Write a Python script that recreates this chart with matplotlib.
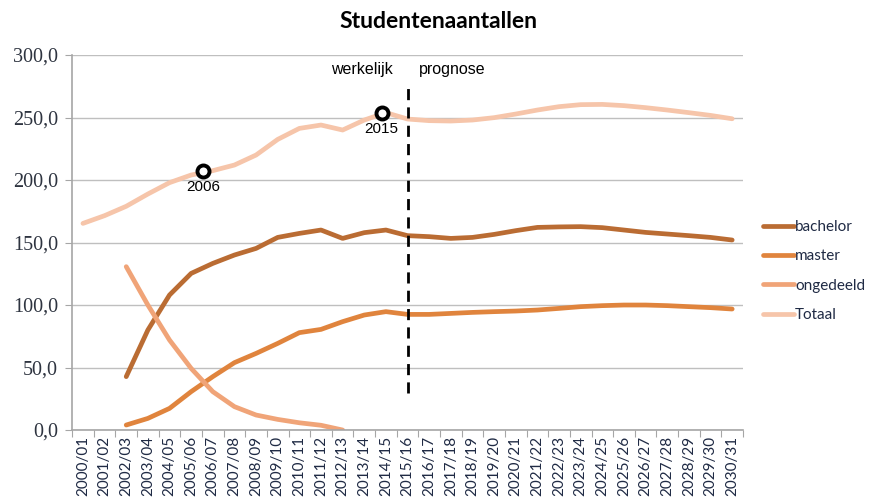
import matplotlib
matplotlib.use("Agg")
import matplotlib.pyplot as plt
from matplotlib.ticker import FixedLocator, FuncFormatter

years = [f"{y}/{(y + 1) % 100:02d}" for y in range(2000, 2031)]

# student numbers (x 1000)
totaal = [165.3, 171.5, 179.0, 188.8, 197.9, 204.0, 207.5, 212.0, 220.0, 232.5,
          241.3, 244.0, 240.0, 248.0, 253.9, 248.8, 247.5, 247.2, 248.0, 249.9,
          252.8, 256.0, 258.7, 260.3, 260.5, 259.5, 257.9, 256.0, 253.9, 251.7,
          249.0]
bachelor = [None, None, 42.7, 80.0, 108.0, 125.3, 133.3, 140.0, 145.3, 154.1,
            157.3, 160.0, 153.3, 157.9, 160.0, 155.5, 154.7, 153.3, 154.1, 156.5,
            159.5, 162.1, 162.5, 162.7, 161.9, 160.0, 158.1, 156.8, 155.5, 154.1,
            152.0]
master = [None, None, 4.0, 9.3, 17.3, 30.7, 42.7, 53.9, 61.3, 69.3,
          77.9, 80.5, 86.7, 92.0, 94.7, 92.5, 92.5, 93.3, 94.1, 94.7,
          95.2, 96.0, 97.3, 98.7, 99.5, 100.0, 100.0, 99.5, 98.7, 97.9,
          96.8]
ongedeeld = [None, None, 130.7, 100.0, 72.0, 49.3, 30.7, 18.7, 12.0, 8.5,
             5.8, 3.8, 0.0]

series_names = ["bachelor", "master", "ongedeeld", "Totaal"]
series_colors = ["#BA6C33", "#E0843D", "#F0A478", "#F6C5AA"]

# highlighted points on the total line
marker_x = [5.55, 13.8]
marker_y = [207.5, 253.9]
marker_labels = ["2006", "2015"]

split_index = 15  # 2015/16: start of prognosis


def pad(values, n):
    vals = [float("nan") if v is None else v for v in values]
    return vals + [float("nan")] * (n - len(vals))


def main():
    n = len(years)
    x = list(range(n))
    fig = plt.figure(figsize=(8.69, 4.98), dpi=100)
    ax = fig.add_axes([0.083, 0.1365, 0.772, 0.753])

    for name, values, color in zip(series_names, [bachelor, master, ongedeeld, totaal], series_colors):
        ax.plot(x, pad(values, n), color=color, linewidth=3.4, label=name,
                solid_capstyle="round", solid_joinstyle="round")

    ax.scatter(marker_x, marker_y, s=75, facecolor="white", edgecolor="black",
               linewidth=2.8, zorder=5)
    for mx, my, lab in zip(marker_x, marker_y, marker_labels):
        ax.annotate(lab, (mx, my), xytext=(0, -7), textcoords="offset points",
                    ha="center", va="top", fontsize=11, family="Liberation Sans")

    ax.plot([split_index, split_index], [30, 274], color="black", linewidth=2.0,
            linestyle=(0, (4, 2.6)), zorder=4)
    ax.annotate("werkelijk", (split_index, 288.5), xytext=(-11, 0),
                textcoords="offset points", ha="right", va="center",
                fontsize=11.5, family="Liberation Sans")
    ax.annotate("prognose", (split_index, 288.5), xytext=(8, 0),
                textcoords="offset points", ha="left", va="center",
                fontsize=11.5, family="Liberation Sans")

    ax.set_xlim(-0.5, n - 0.5)
    ax.set_ylim(0, 300)
    ax.set_yticks(range(0, 301, 50))
    ax.yaxis.set_major_formatter(FuncFormatter(lambda v, _: f"{v:.1f}".replace(".", ",")))
    ax.grid(axis="y", color="#BFBFBF", linewidth=1.0)
    ax.set_axisbelow(True)

    ax.xaxis.set_major_locator(FixedLocator([i - 0.5 for i in range(n + 1)]))
    ax.xaxis.set_major_formatter(FuncFormatter(lambda v, _: ""))
    ax.xaxis.set_minor_locator(FixedLocator(x))
    ax.set_xticklabels(years, minor=True, rotation=90, fontsize=11,
                       family="Lato", color="#1F2A44")
    ax.tick_params(axis="x", which="major", length=5, color="#A6A6A6", direction="out")
    ax.tick_params(axis="x", which="minor", length=0, pad=4)
    ax.tick_params(axis="y", length=5, color="#A6A6A6", labelsize=14.5, pad=5)
    for lab in ax.get_yticklabels():
        lab.set_family("Liberation Serif")
        lab.set_color("#2E3440")

    for side in ("top", "right"):
        ax.spines[side].set_visible(False)
    for side in ("left", "bottom"):
        ax.spines[side].set_color("#A6A6A6")
        ax.spines[side].set_linewidth(1.2)

    leg = ax.legend(loc="center left", bbox_to_anchor=(1.03, 0.424), frameon=False,
                    borderaxespad=0, borderpad=0, handlelength=2.0, handletextpad=0.1,
                    labelspacing=1.0, prop={"family": "Lato", "size": 11})
    for txt in leg.get_texts():
        txt.set_color("#1F2A44")

    fig.text(0.505, 0.957, "Studentenaantallen", ha="center", va="center",
             fontsize=16.5, fontweight="bold", family="Lato")

    fig.savefig("out.png", dpi=100)
    plt.close(fig)


if __name__ == "__main__":
    main()
